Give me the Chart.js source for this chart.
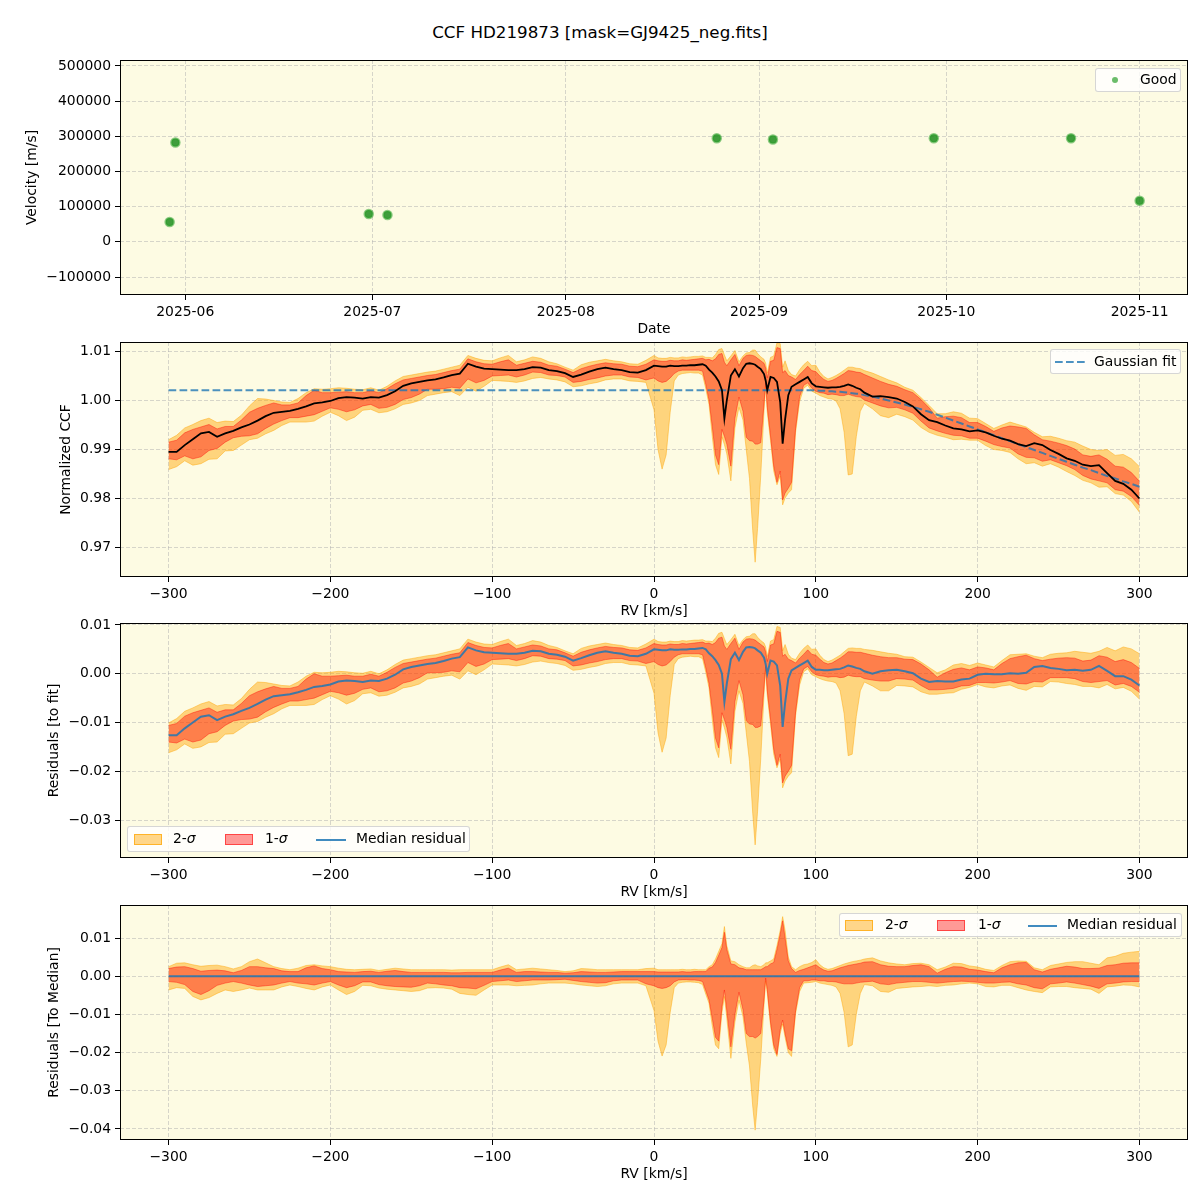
<!DOCTYPE html>
<html lang="en">
<head>
    <meta charset="UTF-8">
    <title>CCF HD219873</title>
    <script src="https://cdn.jsdelivr.net/npm/chart.js"></script>
    <style>
        body {
            margin: 0;
            background: #fff;
            font-family: 'DejaVu Sans', sans-serif;
            color: #000;
        }

        #page {
            position: relative;
            width: 1200px;
            height: 1200px;
        }

        canvas {
            position: absolute;
            left: 0;
        }

        .title {
            position: absolute;
            top: 22px;
            left: 0;
            width: 1200px;
            text-align: center;
            font-size: 16.7px;
            line-height: 20px;
        }

        .legend {
            position: absolute;
            box-sizing: border-box;
            background: rgba(255, 255, 255, 0.8);
            border: 1px solid rgba(204, 204, 204, 0.8);
            border-radius: 3px;
            z-index: 5;
        }

        .legend .txt {
            position: absolute;
            top: 50%;
            transform: translateY(-50%);
            font-size: 13.9px;
            line-height: 1;
            white-space: nowrap;
        }

        .legend .patch {
            position: absolute;
            box-sizing: border-box;
            width: 28px;
            height: 11px;
        }

        .p2 { background: rgba(255, 165, 0, 0.45); border: 1px solid rgba(255, 165, 0, 0.7); }
        .p1 { background: rgba(255, 0, 0, 0.4); border: 1px solid rgba(255, 0, 0, 0.55); }

        .legend .ln {
            position: absolute;
            height: 2px;
            background: rgba(31, 119, 180, 0.85);
        }

        .legend .dot {
            position: absolute;
            width: 6px;
            height: 6px;
            border-radius: 50%;
            background: rgba(44, 160, 44, 0.7);
        }
    </style>
</head>
<body>
<div id="page">
    <div class="title">CCF HD219873 [mask=GJ9425_neg.fits]</div>

    <canvas id="velChart" width="1200" height="290" style="top:50px"></canvas>
    <canvas id="ccfChart" width="1200" height="290" style="top:332px"></canvas>
    <canvas id="residChart" width="1200" height="290" style="top:613px"></canvas>
    <canvas id="medChart" width="1200" height="290" style="top:895px"></canvas>

    <div class="legend" style="left:1095px;top:68px;width:86px;height:24px">
        <span class="dot" style="left:16px;top:8px"></span>
        <span class="txt" style="left:44px">Good</span>
    </div>

    <div class="legend" style="left:1050px;top:349px;width:131px;height:25px">
        <svg style="position:absolute;left:4px;top:10px" width="30" height="4">
            <line x1="0" y1="2" x2="30" y2="2" stroke="rgba(31,119,180,0.8)" stroke-width="2" stroke-dasharray="7.7 3.3"/>
        </svg>
        <span class="txt" style="left:43px">Gaussian fit</span>
    </div>

    <div class="legend" style="left:127px;top:826px;width:343px;height:26px">
        <span class="patch p2" style="left:6px;top:7px"></span>
        <span class="txt" style="left:45px">2-<i>σ</i></span>
        <span class="patch p1" style="left:97px;top:7px"></span>
        <span class="txt" style="left:137px">1-<i>σ</i></span>
        <span class="ln" style="left:188px;top:12px;width:30px"></span>
        <span class="txt" style="left:228px">Median residual</span>
    </div>

    <div class="legend" style="left:839px;top:913px;width:343px;height:24px">
        <span class="patch p2" style="left:5px;top:6px"></span>
        <span class="txt" style="left:45px">2-<i>σ</i></span>
        <span class="patch p1" style="left:97px;top:6px"></span>
        <span class="txt" style="left:138px">1-<i>σ</i></span>
        <span class="ln" style="left:188px;top:11px;width:29px"></span>
        <span class="txt" style="left:227px">Median residual</span>
    </div>
</div>

<script>
    // observations (top panel)
    const obsDates = ['2025-05-29T12:00Z', '2025-05-30T10:00Z', '2025-06-30T10:00Z', '2025-07-03T10:00Z',
        '2025-08-25T05:00Z', '2025-09-03T05:00Z', '2025-09-29T00:00Z', '2025-10-21T00:00Z', '2025-11-01T00:00Z'];
    const obsVel = [56500, 282500, 79100, 76300, 294700, 291000, 294700, 294700, 116800];

    // RV grid [km/s]
    const rv = [
        -300, -295, -290, -285, -280, -275, -270, -265, -260, -255,
        -250, -245, -240, -235, -230, -225, -220, -215, -210, -205,
        -200, -195, -190, -185, -180, -175, -170, -165, -160, -155,
        -150, -145, -140, -135, -130, -125, -120, -115, -110, -105,
        -100, -95, -90, -85, -80, -75, -70, -65, -60, -55,
        -50, -45, -40, -35, -30, -25, -20, -15, -10, -5,
        0, 2.5, 5, 7.5, 10, 12.5, 15, 17.5, 20, 22.5, 25, 27.5, 30,
        32, 34, 36, 38, 40, 42, 43.5, 45, 47.5, 50,
        52.5, 55, 57, 59, 61, 62.5, 64, 66, 68, 69,
        70, 72, 74, 76, 78, 79.5, 81, 83, 85, 87.5,
        90,
        92.5, 95, 97.5, 100, 102.5, 105, 107.5, 110, 112.5, 115, 117.5, 120, 122.5, 125, 127.5, 130,
        135, 140, 145, 150, 155, 160, 165, 170, 175, 180,
        185, 190, 195, 200, 205, 210, 215, 220, 225, 230,
        235, 240, 245, 250, 255, 260, 265, 270, 275, 280,
        285, 290, 295, 300
    ];

    // Gaussian fit of the CCF
    const ccfFit = [
        1.0020, 1.0020, 1.0020, 1.0020, 1.0020, 1.0020, 1.0020, 1.0020, 1.0020, 1.0020,
        1.0020, 1.0020, 1.0020, 1.0020, 1.0020, 1.0020, 1.0020, 1.0020, 1.0020, 1.0020,
        1.0020, 1.0020, 1.0020, 1.0020, 1.0020, 1.0020, 1.0020, 1.0020, 1.0020, 1.0020,
        1.0020, 1.0020, 1.0020, 1.0020, 1.0020, 1.0020, 1.0020, 1.0020, 1.0020, 1.0020,
        1.0020, 1.0020, 1.0020, 1.0020, 1.0020, 1.0020, 1.0020, 1.0020, 1.0020, 1.0020,
        1.0020, 1.0020, 1.0020, 1.0020, 1.0020, 1.0020, 1.0020, 1.0020, 1.0020, 1.0020,
        1.0020, 1.0020, 1.0020, 1.0020, 1.0020, 1.0020, 1.0020, 1.0020, 1.0020, 1.0020, 1.0020, 1.0020, 1.0020,
        1.0020, 1.0020, 1.0020, 1.0020, 1.0020, 1.0020, 1.0020, 1.0020, 1.0020, 1.0020,
        1.0020, 1.0020, 1.0020, 1.0020, 1.0020, 1.0020, 1.0020, 1.0020, 1.0020, 1.0020,
        1.0020, 1.0020, 1.0020, 1.0020, 1.0020, 1.0020, 1.0020, 1.0020, 1.0020, 1.0020,
        1.0020,
        1.0020, 1.0020, 1.0020, 1.0020, 1.0019, 1.0019, 1.0018, 1.0018, 1.0017, 1.0017, 1.0016, 1.0015, 1.0014, 1.0013, 1.0012, 1.0010,
        1.0007, 1.0003, 0.9999, 0.9995, 0.9991, 0.9986, 0.9981, 0.9976, 0.9970, 0.9964,
        0.9958, 0.9952, 0.9946, 0.9940, 0.9934, 0.9928, 0.9922, 0.9916, 0.9910, 0.9904,
        0.9898, 0.9892, 0.9886, 0.9880, 0.9874, 0.9868, 0.9862, 0.9857, 0.9851, 0.9845,
        0.9840, 0.9834, 0.9829, 0.9823
    ];

    // median residual to the fit
    const medResid = [
        -0.0126, -0.0126, -0.0112, -0.0100, -0.0088, -0.0085, -0.0095, -0.0088, -0.0083, -0.0076,
        -0.0070, -0.0062, -0.0053, -0.0046, -0.0044, -0.0042, -0.0038, -0.0033, -0.0027, -0.0025,
        -0.0022, -0.0016, -0.0014, -0.0015, -0.0017, -0.0014, -0.0015, -0.0010, -0.0002, 0.0009,
        0.0014, 0.0017, 0.0020, 0.0022, 0.0026, 0.0031, 0.0034, 0.0054, 0.0048, 0.0044,
        0.0043, 0.0042, 0.0041, 0.0041, 0.0043, 0.0047, 0.0046, 0.0041, 0.0039, 0.0035,
        0.0027, 0.0032, 0.0038, 0.0043, 0.0046, 0.0043, 0.0041, 0.0037, 0.0036, 0.0041,
        0.0050, 0.0049, 0.0048, 0.0048, 0.0050, 0.0049, 0.0049, 0.0050, 0.0050, 0.0051, 0.0051, 0.0052, 0.0053,
        0.0050, 0.0042, 0.0036, 0.0028, 0.0018, 0.0000, -0.0058, -0.0020, 0.0030, 0.0043,
        0.0028, 0.0045, 0.0054, 0.0055, 0.0054, 0.0052, 0.0048, 0.0043, 0.0033, 0.0020,
        0.0000, 0.0027, 0.0025, 0.0017, -0.0025, -0.0109, -0.0060, -0.0010, 0.0007, 0.0012,
        0.0017,
        0.0022, 0.0027, 0.0014, 0.0008, 0.0008, 0.0007, 0.0007, 0.0008, 0.0009, 0.0010, 0.0013, 0.0017, 0.0015, 0.0012, 0.0010, 0.0005,
        0.0000, 0.0005, 0.0007, 0.0008, 0.0005, 0.0001, -0.0010, -0.0017, -0.0015, -0.0016,
        -0.0016, -0.0012, -0.0010, -0.0002, 0.0000, -0.0001, -0.0001, 0.0001, 0.0000, 0.0002,
        0.0014, 0.0016, 0.0012, 0.0010, 0.0007, 0.0008, 0.0006, 0.0008, 0.0016, 0.0006,
        -0.0005, -0.0005, -0.0012, -0.0024
    ];

    // band edges relative to the median (upper 2-sigma, upper 1-sigma, lower 1-sigma, lower 2-sigma)
    const hi2Off = [
        0.0025, 0.0034, 0.0035, 0.0030, 0.0026, 0.0028, 0.0029, 0.0025, 0.0019, 0.0025,
        0.0038, 0.0045, 0.0035, 0.0025, 0.0020, 0.0017, 0.0021, 0.0028, 0.0030, 0.0027,
        0.0025, 0.0021, 0.0018, 0.0017, 0.0018, 0.0019, 0.0015, 0.0018, 0.0021, 0.0019,
        0.0017, 0.0017, 0.0017, 0.0017, 0.0017, 0.0016, 0.0017, 0.0017, 0.0017, 0.0017,
        0.0017, 0.0024, 0.0030, 0.0017, 0.0019, 0.0021, 0.0019, 0.0017, 0.0015, 0.0012,
        0.0014, 0.0020, 0.0019, 0.0017, 0.0017, 0.0017, 0.0017, 0.0017, 0.0017, 0.0020,
        0.0021, 0.0017, 0.0017, 0.0017, 0.0017, 0.0017, 0.0017, 0.0018, 0.0017, 0.0017, 0.0018, 0.0017, 0.0017,
        0.0017, 0.0025, 0.0030, 0.0045, 0.0065, 0.0085, 0.0130, 0.0080, 0.0040, 0.0038,
        0.0030, 0.0025, 0.0022, 0.0022, 0.0028, 0.0030, 0.0027, 0.0025, 0.0030, 0.0035,
        0.0035, 0.0040, 0.0045, 0.0080, 0.0120, 0.0156, 0.0120, 0.0050, 0.0025, 0.0017,
        0.0025,
        0.0030, 0.0032, 0.0036, 0.0043, 0.0030, 0.0022, 0.0018, 0.0020, 0.0024, 0.0028, 0.0032, 0.0035, 0.0038, 0.0040, 0.0042, 0.0045,
        0.0048, 0.0040, 0.0035, 0.0032, 0.0030, 0.0033, 0.0034, 0.0030, 0.0017, 0.0024,
        0.0034, 0.0033, 0.0027, 0.0024, 0.0018, 0.0015, 0.0028, 0.0038, 0.0040, 0.0039,
        0.0022, 0.0017, 0.0028, 0.0032, 0.0036, 0.0038, 0.0038, 0.0034, 0.0030, 0.0048,
        0.0052, 0.0060, 0.0063, 0.0065
    ];

    const hi1Off = [
        0.0020, 0.0024, 0.0025, 0.0020, 0.0013, 0.0015, 0.0016, 0.0014, 0.0009, 0.0015,
        0.0025, 0.0025, 0.0022, 0.0020, 0.0014, 0.0012, 0.0012, 0.0022, 0.0027, 0.0020,
        0.0017, 0.0012, 0.0011, 0.0010, 0.0012, 0.0013, 0.0010, 0.0013, 0.0015, 0.0012,
        0.0010, 0.0010, 0.0010, 0.0010, 0.0010, 0.0009, 0.0009, 0.0010, 0.0010, 0.0010,
        0.0010, 0.0016, 0.0021, 0.0010, 0.0012, 0.0012, 0.0011, 0.0010, 0.0010, 0.0008,
        0.0009, 0.0012, 0.0011, 0.0010, 0.0010, 0.0011, 0.0012, 0.0012, 0.0012, 0.0012,
        0.0012, 0.0011, 0.0011, 0.0011, 0.0011, 0.0011, 0.0011, 0.0012, 0.0011, 0.0011, 0.0012, 0.0012, 0.0012,
        0.0012, 0.0021, 0.0024, 0.0036, 0.0055, 0.0075, 0.0115, 0.0070, 0.0032, 0.0030,
        0.0022, 0.0020, 0.0017, 0.0017, 0.0017, 0.0017, 0.0017, 0.0017, 0.0022, 0.0025,
        0.0025, 0.0032, 0.0036, 0.0070, 0.0110, 0.0145, 0.0100, 0.0040, 0.0020, 0.0010,
        0.0015,
        0.0018, 0.0022, 0.0026, 0.0030, 0.0022, 0.0016, 0.0013, 0.0014, 0.0018, 0.0022, 0.0025, 0.0028, 0.0030, 0.0032, 0.0034, 0.0037,
        0.0038, 0.0030, 0.0026, 0.0025, 0.0025, 0.0028, 0.0030, 0.0025, 0.0008, 0.0018,
        0.0025, 0.0024, 0.0018, 0.0016, 0.0012, 0.0009, 0.0022, 0.0030, 0.0035, 0.0036,
        0.0017, 0.0011, 0.0018, 0.0022, 0.0026, 0.0024, 0.0020, 0.0020, 0.0021, 0.0028,
        0.0030, 0.0034, 0.0035, 0.0035
    ];

    const lo1Off = [
        -0.0014, -0.0016, -0.0022, -0.0040, -0.0048, -0.0038, -0.0024, -0.0018, -0.0014, -0.0018,
        -0.0023, -0.0027, -0.0025, -0.0023, -0.0018, -0.0014, -0.0018, -0.0020, -0.0023, -0.0018,
        -0.0014, -0.0023, -0.0030, -0.0025, -0.0015, -0.0015, -0.0022, -0.0025, -0.0027, -0.0028,
        -0.0029, -0.0025, -0.0018, -0.0020, -0.0023, -0.0025, -0.0030, -0.0031, -0.0033, -0.0024,
        -0.0014, -0.0012, -0.0010, -0.0014, -0.0012, -0.0010, -0.0010, -0.0010, -0.0009, -0.0008,
        -0.0011, -0.0014, -0.0016, -0.0018, -0.0017, -0.0012, -0.0010, -0.0010, -0.0010, -0.0020,
        -0.0025, -0.0030, -0.0032, -0.0030, -0.0025, -0.0015, -0.0010, -0.0009, -0.0009, -0.0010, -0.0010, -0.0011, -0.0014,
        -0.0038, -0.0062, -0.0110, -0.0160, -0.0170, -0.0080, -0.0036, -0.0090, -0.0185, -0.0100,
        -0.0042, -0.0088, -0.0150, -0.0158, -0.0158, -0.0162, -0.0158, -0.0150, -0.0060, -0.0005,
        -0.0035, -0.0120, -0.0180, -0.0205, -0.0140, -0.0115, -0.0150, -0.0190, -0.0195, -0.0090,
        -0.0030,
        -0.0012, -0.0012, -0.0010, -0.0010, -0.0012, -0.0012, -0.0014, -0.0014, -0.0015, -0.0018, -0.0020, -0.0020, -0.0020, -0.0018, -0.0016, -0.0015,
        -0.0013, -0.0020, -0.0022, -0.0018, -0.0016, -0.0014, -0.0014, -0.0016, -0.0018, -0.0016,
        -0.0014, -0.0013, -0.0014, -0.0016, -0.0018, -0.0018, -0.0016, -0.0015, -0.0020, -0.0023,
        -0.0030, -0.0033, -0.0020, -0.0018, -0.0015, -0.0018, -0.0022, -0.0026, -0.0032, -0.0020,
        -0.0018, -0.0015, -0.0014, -0.0014
    ];

    const lo2Off = [
        -0.0036, -0.0030, -0.0032, -0.0053, -0.0062, -0.0056, -0.0045, -0.0036, -0.0040, -0.0036,
        -0.0031, -0.0036, -0.0036, -0.0036, -0.0028, -0.0023, -0.0027, -0.0032, -0.0036, -0.0028,
        -0.0023, -0.0036, -0.0048, -0.0040, -0.0024, -0.0025, -0.0031, -0.0034, -0.0036, -0.0038,
        -0.0040, -0.0038, -0.0031, -0.0030, -0.0031, -0.0034, -0.0045, -0.0048, -0.0050, -0.0036,
        -0.0023, -0.0023, -0.0023, -0.0025, -0.0024, -0.0023, -0.0020, -0.0018, -0.0018, -0.0018,
        -0.0020, -0.0023, -0.0025, -0.0027, -0.0025, -0.0020, -0.0018, -0.0018, -0.0018, -0.0025,
        -0.0090, -0.0170, -0.0209, -0.0180, -0.0095, -0.0030, -0.0018, -0.0016, -0.0015, -0.0015, -0.0016, -0.0017, -0.0022,
        -0.0047, -0.0071, -0.0130, -0.0180, -0.0190, -0.0095, -0.0053, -0.0110, -0.0215, -0.0120,
        -0.0063, -0.0106, -0.0175, -0.0235, -0.0340, -0.0403, -0.0330, -0.0215, -0.0075, -0.0012,
        -0.0045, -0.0130, -0.0190, -0.0210, -0.0150, -0.0125, -0.0160, -0.0200, -0.0210, -0.0098,
        -0.0040,
        -0.0018, -0.0017, -0.0016, -0.0014, -0.0018, -0.0020, -0.0022, -0.0024, -0.0028, -0.0045, -0.0095, -0.0185, -0.0180, -0.0100, -0.0045, -0.0022,
        -0.0025, -0.0040, -0.0042, -0.0032, -0.0030, -0.0028, -0.0027, -0.0025, -0.0027, -0.0024,
        -0.0023, -0.0020, -0.0018, -0.0020, -0.0027, -0.0028, -0.0024, -0.0024, -0.0030, -0.0036,
        -0.0040, -0.0043, -0.0028, -0.0027, -0.0027, -0.0030, -0.0032, -0.0034, -0.0045, -0.0028,
        -0.0026, -0.0023, -0.0024, -0.0028
    ];

    // tick labels
    const monthTicks = ['2025-06-01', '2025-07-01', '2025-08-01', '2025-09-01', '2025-10-01', '2025-11-01'];
    const velTicks = [-100000, 0, 100000, 200000, 300000, 400000, 500000];
    const rvTicks = [-300, -200, -100, 0, 100, 200, 300];
    const ccfTicks = [0.97, 0.98, 0.99, 1.00, 1.01];
    const residTicks = [-0.03, -0.02, -0.01, 0.00, 0.01];
    const medTicks = [-0.04, -0.03, -0.02, -0.01, 0.00, 0.01];

    const BG = '#fdfbe3';
    const GRID = 'rgba(175, 175, 175, 0.5)';
    const C2 = 'rgba(255, 165, 0, 0.45)';
    const C1 = 'rgba(255, 0, 0, 0.4)';
    const BLUE = 'rgba(31, 119, 180, 0.85)';
    const tickFont = { family: 'DejaVu Sans', size: 13.9 };
    const labelFont = { family: 'DejaVu Sans', size: 13.9 };

    Chart.defaults.color = '#000';

    const day = s => Date.parse(s) / 864e5;

    function fmt(v, dec) {
        const s = Math.abs(v).toFixed(dec);
        return (v < -1e-9 ? '\u2212' : '') + s;
    }

    // yellow background and black box round the plot area
    const framePlugin = {
        id: 'frame',
        beforeDraw(chart) {
            const { ctx, chartArea: a } = chart;
            ctx.save();
            ctx.fillStyle = BG;
            ctx.fillRect(a.left, a.top, a.right - a.left, a.bottom - a.top);
            ctx.restore();
        },
        afterDatasetsDraw(chart) {
            const { ctx, chartArea: a } = chart;
            ctx.save();
            ctx.strokeStyle = '#000';
            ctx.lineWidth = 1;
            ctx.strokeRect(a.left + 0.5, a.top + 0.5, a.right - a.left - 1, a.bottom - a.top - 1);
            ctx.restore();
        }
    };

    function axis(isX, min, max, tickVals, label, title, titlePad) {
        return {
            type: 'linear',
            min: min,
            max: max,
            afterBuildTicks: s => { s.ticks = tickVals.map(v => ({ value: v })); },
            afterFit: s => {
                // fixed plot area, labels may run into the margins
                if (isX) { s.height = 45; s.paddingLeft = 0; s.paddingRight = 0; }
                else { s.width = 120; s.paddingTop = 0; s.paddingBottom = 0; }
            },
            ticks: { callback: label, autoSkip: false, maxRotation: 0, padding: 4, font: tickFont, color: '#000' },
            grid: { color: GRID, lineWidth: 1, tickLength: 5, tickColor: '#000', tickWidth: 1 },
            border: { display: false, dash: [4, 2] },
            title: {
                display: true, text: title, font: labelFont, color: '#000',
                padding: isX ? { top: 0, bottom: titlePad } : { top: titlePad, bottom: 0 }
            }
        };
    }

    function baseOptions(xAxis, yAxis) {
        return {
            responsive: false,
            animation: false,
            layout: { padding: { top: 10, right: 12, left: 0, bottom: 0 } },
            plugins: { legend: { display: false }, tooltip: { enabled: false } },
            scales: { x: xAxis, y: yAxis }
        };
    }

    function line(data, color, width, order, extra) {
        return Object.assign({
            data: data, borderColor: color, backgroundColor: color, borderWidth: width,
            pointRadius: 0, fill: false, order: order
        }, extra || {});
    }

    // the four bands (hi1/lo1 then hi2/lo2), each upper edge filled to the next dataset
    function bands(base) {
        const pts = off => rv.map((x, i) => ({ x: x, y: base(i) + off[i] }));
        return [
            line(pts(hi1Off), C1, 1, 2, { fill: '+1' }),
            line(pts(lo1Off), C1, 1, 2),
            line(pts(hi2Off), C2, 1, 3, { fill: '+1' }),
            line(pts(lo2Off), C2, 1, 3)
        ];
    }

    const rvLabel = v => fmt(v, 0);

    // Panel 1: velocities
    new Chart(document.getElementById('velChart'), {
        type: 'scatter',
        data: {
            datasets: [{
                data: obsDates.map((d, i) => ({ x: day(d), y: obsVel[i] })),
                pointRadius: 4,
                pointBackgroundColor: 'rgba(30, 140, 30, 0.85)',
                pointBorderColor: 'rgba(44, 160, 44, 0.55)',
                pointBorderWidth: 2.5
            }]
        },
        options: baseOptions(
            axis(true, day('2025-05-21T13:00Z'), day('2025-11-08T18:00Z'), monthTicks.map(day),
                v => new Date(v * 864e5).toISOString().slice(0, 7), 'Date', 2),
            axis(false, -151180, 517060, velTicks, v => fmt(v, 0), 'Velocity [m/s]', 24)
        ),
        plugins: [framePlugin]
    });

    // Panel 2: normalized CCF with Gaussian fit
    new Chart(document.getElementById('ccfChart'), {
        type: 'line',
        data: {
            datasets: [
                line(rv.map((x, i) => ({ x: x, y: ccfFit[i] + medResid[i] })), '#000', 1.8, 0),
                line(rv.map((x, i) => ({ x: x, y: ccfFit[i] })), 'rgba(31, 119, 180, 0.8)', 2, 1, { borderDash: [7.7, 3.3] })
            ].concat(bands(i => ccfFit[i] + medResid[i]))
        },
        options: baseOptions(
            axis(true, -330, 330, rvTicks, rvLabel, 'RV [km/s]', 2),
            axis(false, 0.96388, 1.01184, ccfTicks, v => fmt(v, 2), 'Normalized CCF', 58)
        ),
        plugins: [framePlugin]
    });

    // Panel 3: residuals to the fit
    new Chart(document.getElementById('residChart'), {
        type: 'line',
        data: {
            datasets: [
                line(rv.map((x, i) => ({ x: x, y: medResid[i] })), BLUE, 2, 0)
            ].concat(bands(i => medResid[i]))
        },
        options: baseOptions(
            axis(true, -330, 330, rvTicks, rvLabel, 'RV [km/s]', 2),
            axis(false, -0.03779, 0.01041, residTicks, v => fmt(v, 2), 'Residuals [to fit]', 46)
        ),
        plugins: [framePlugin]
    });

    // Panel 4: residuals to the median
    new Chart(document.getElementById('medChart'), {
        type: 'line',
        data: {
            datasets: [
                line(rv.map((x, i) => ({ x: x, y: medResid[i] - medResid[i] })), BLUE, 2, 0)
            ].concat(bands(i => 0))
        },
        options: baseOptions(
            axis(true, -330, 330, rvTicks, rvLabel, 'RV [km/s]', 2),
            axis(false, -0.04288, 0.01864, medTicks, v => fmt(v, 2), 'Residuals [To Median]', 46)
        ),
        plugins: [framePlugin]
    });
</script>
</body>
</html>
